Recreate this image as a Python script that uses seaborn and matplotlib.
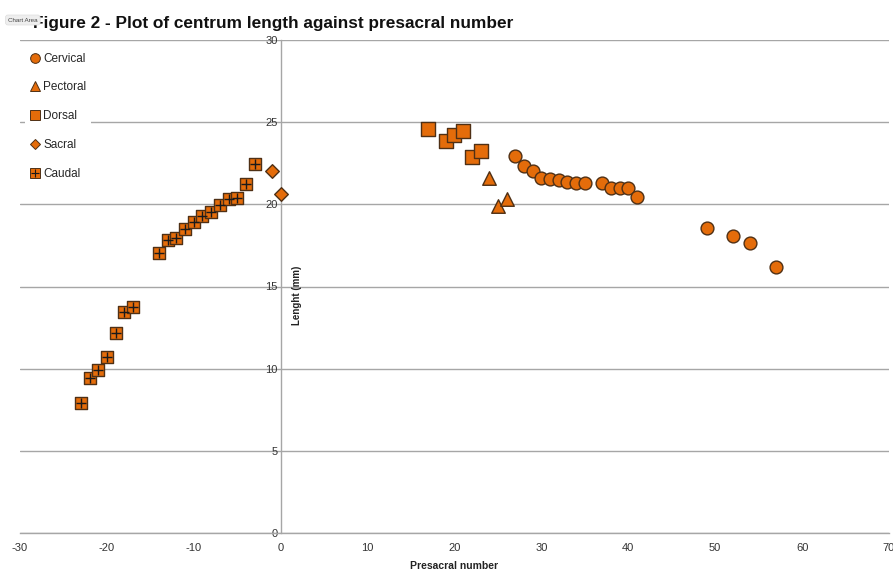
import matplotlib
matplotlib.use("Agg")
import matplotlib.pyplot as plt
import seaborn as sns
import pandas as pd
from matplotlib.lines import Line2D
from matplotlib.legend_handler import HandlerTuple

sns.set_theme(style="white")
plt.rcParams['font.family'] = ['Liberation Sans', 'DejaVu Sans']

# ---- data ----
cervical_x = [27, 28, 29, 30, 31, 32, 33, 34, 35, 37, 38, 39, 40, 41, 49, 52, 54, 57]
cervical_y = [22.96, 22.34, 22.03, 21.63, 21.55, 21.47, 21.38, 21.32, 21.32, 21.28,
              21.02, 21.02, 21.02, 20.43, 18.55, 18.06, 17.67, 16.17]
pectoral_x = [24, 25, 26]
pectoral_y = [21.6, 19.9, 20.35]
dorsal_x = [17, 19, 20, 21, 22, 23]
dorsal_y = [24.59, 23.88, 24.22, 24.49, 22.88, 23.27]
sacral_x = [-1, 0]
sacral_y = [22.03, 20.6]
caudal_x = [-23, -22, -21, -20, -19, -18, -17, -14, -13, -12, -11, -10, -9, -8,
            -7, -6, -5, -4, -3]
caudal_y = [7.93, 9.45, 9.92, 10.69, 12.15, 13.43, 13.74, 17.06, 17.81, 17.94,
            18.48, 18.91, 19.29, 19.52, 19.94, 20.33, 20.41, 21.22, 22.46]

x_ticks = [-30, -20, -10, 0, 10, 20, 30, 40, 50, 60, 70]
y_ticks = [0, 5, 10, 15, 20, 25, 30]

title = "Figure 2 - Plot of centrum length against presacral number"
x_label = "Presacral number"
y_label = "Lenght (mm)"

ORANGE = "#E46C0A"
EDGE = "#4f3015"

fig = plt.figure(figsize=(8.93, 5.75), dpi=100)
ax = fig.add_axes([20 / 893, 1 - 533 / 575, 869 / 893, 493 / 575])

series = [
    ("Cervical", cervical_x, cervical_y, "o", 85),
    ("Pectoral", pectoral_x, pectoral_y, "^", 95),
    ("Dorsal", dorsal_x, dorsal_y, "s", 90),
    ("Sacral", sacral_x, sacral_y, "D", 48),
    ("Caudal", caudal_x, caudal_y, "s", 68),
]
for name, xs, ys, mk, s in series:
    d = pd.DataFrame({"x": xs, "y": ys})
    sns.scatterplot(data=d, x="x", y="y", marker=mk, s=s, color=ORANGE,
                    edgecolor=EDGE, linewidth=1.0, ax=ax, zorder=3, legend=False)
dc = pd.DataFrame({"x": caudal_x, "y": caudal_y})
sns.scatterplot(data=dc, x="x", y="y", marker="+", s=60, color="#1a1a1a",
                linewidth=1.0, ax=ax, zorder=4, legend=False)

ax.set_xlim(-30, 70)
ax.set_ylim(0, 30)
ax.set_xticks(x_ticks)
ax.set_yticks(y_ticks)
ax.set_xticklabels([str(t) for t in x_ticks])
ax.set_yticklabels([str(t) for t in y_ticks])

for sp in ["top", "right"]:
    ax.spines[sp].set_visible(False)
ax.spines["left"].set_position(("data", 0))
ax.spines["left"].set_color("#a6a6a6")
ax.spines["bottom"].set_color("#a6a6a6")
ax.spines["left"].set_linewidth(1)
ax.spines["bottom"].set_linewidth(1)
ax.yaxis.grid(True, color="#a6a6a6", linewidth=1)
ax.xaxis.grid(False)
ax.set_axisbelow(True)
ax.tick_params(axis="x", direction="out", length=4, width=1, color="#a6a6a6",
               labelsize=8, labelcolor="#333333", pad=3)
ax.tick_params(axis="y", length=0, labelsize=8, labelcolor="#333333", pad=2)
ax.set_xlabel(x_label, fontsize=7.5, fontweight="bold", labelpad=6, color="#222222")
ax.set_ylabel("")

fig.text(297 / 893, 1 - 295 / 575, y_label, rotation=90, fontsize=7,
         fontweight="bold", ha="center", va="center", color="#222222")

fig.text(33 / 893, 1 - 28 / 575, title, fontsize=12.4, fontweight="bold",
         ha="left", va="baseline", color="#111111")
fig.text(8 / 893, 1 - 20 / 575, "Chart Area", fontsize=4.5, ha="left", va="center",
         color="#444444", zorder=10,
         bbox=dict(boxstyle="round,pad=0.4", fc="#eeeeee", ec="#dddddd", lw=0.5))

handles = []
labels = []
for name, xs, ys, mk, s in series:
    h = Line2D([], [], linestyle="none", marker=mk, markersize=7 if mk != "D" else 5,
               markerfacecolor=ORANGE, markeredgecolor=EDGE, markeredgewidth=0.7)
    if name == "Caudal":
        hp = Line2D([], [], linestyle="none", marker="+", markersize=6,
                    markeredgecolor="#1a1a1a", markeredgewidth=0.8)
        h = (h, hp)
    handles.append(h)
    labels.append(name)
leg = ax.legend(handles, labels, loc="upper left",
                bbox_to_anchor=(25 / 893, 1 - 48 / 575), bbox_transform=fig.transFigure,
                frameon=True, fontsize=8.5, labelspacing=1.42, handlelength=0.9,
                handletextpad=0.25, borderpad=0.4, borderaxespad=0,
                handler_map={tuple: HandlerTuple(ndivide=1, pad=0)})
leg.get_frame().set_facecolor("white")
leg.get_frame().set_edgecolor("none")
leg.get_frame().set_alpha(1)
leg.set_zorder(5)

fig.savefig("out.png", dpi=100)
